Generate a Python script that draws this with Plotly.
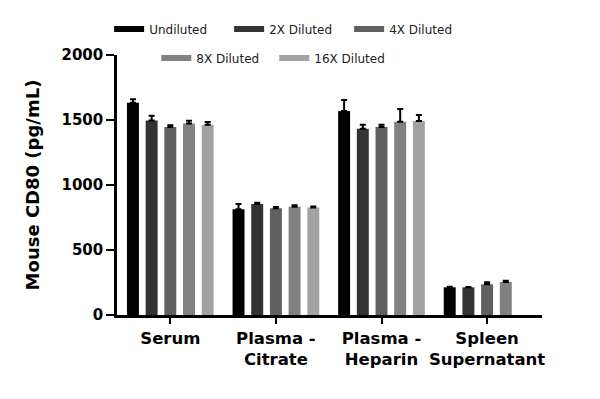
import plotly.graph_objects as go

categories = ["Serum", "Plasma -<br>Citrate", "Plasma -<br>Heparin", "Spleen<br>Supernatant"]
series_names = ["Undiluted", "2X Diluted", "4X Diluted", "8X Diluted", "16X Diluted"]
undiluted = [1633, 813, 1569, 213]
dil_2x = [1497, 854, 1433, 213]
dil_4x = [1446, 821, 1446, 236]
dil_8x = [1474, 833, 1487, 254]
dil_16x = [1464, 826, 1492, None]
err_undiluted = [26, 41, 85, 5]
err_2x = [36, 10, 31, 2]
err_4x = [13, 10, 18, 15]
err_8x = [20, 11, 98, 10]
err_16x = [20, 8, 46, 0]
colors = ["#000000", "#333333", "#606060", "#818181", "#a2a2a4"]

values = [undiluted, dil_2x, dil_4x, dil_8x, dil_16x]
errors = [err_undiluted, err_2x, err_4x, err_8x, err_16x]

fig = go.Figure()
for name, vals, errs, col in zip(series_names, values, errors, colors):
    fig.add_trace(go.Bar(
        x=categories, y=vals, name=name, showlegend=False,
        marker=dict(color=col, line=dict(width=0)),
        error_y=dict(type="data", array=errs, arrayminus=[0] * len(errs),
                     symmetric=False, color="#000000", thickness=2, width=3),
    ))

legend_ids = ["legend", "legend", "legend", "legend2", "legend2"]
for name, col, lg in zip(series_names, colors, legend_ids):
    fig.add_trace(go.Scatter(
        x=[None], y=[None], mode="lines", name=name,
        line=dict(color=col, width=6), legend=lg, showlegend=True,
    ))

legend_font = dict(family="DejaVu Sans", size=12, color="#222222")
fig.update_layout(
    width=600, height=399,
    margin=dict(l=109, r=66, t=47, b=92, autoexpand=False),
    paper_bgcolor="white", plot_bgcolor="white",
    barmode="group", bargap=0.115, bargroupgap=0.36,
    legend=dict(orientation="h", x=0.405, xanchor="center", y=1.1, yanchor="middle",
                font=legend_font, entrywidth=75, entrywidthmode="pixels",
                bgcolor="rgba(0,0,0,0)"),
    legend2=dict(orientation="h", x=0.37, xanchor="center", y=0.988, yanchor="middle",
                 font=legend_font, entrywidth=73, entrywidthmode="pixels",
                 bgcolor="rgba(0,0,0,0)"),
    xaxis=dict(
        range=[-0.505, 3.52], showline=True, linecolor="black", linewidth=2.5,
        ticks="outside", ticklen=6, tickwidth=2, tickcolor="black",
        tickfont=dict(family="DejaVu Sans", size=16.5, color="black", weight="bold"),
        showgrid=False, zeroline=False,
    ),
    yaxis=dict(
        range=[0, 2000], tickvals=[0, 500, 1000, 1500, 2000],
        showline=True, linecolor="black", linewidth=2.5,
        ticks="outside", ticklen=8, tickwidth=2, tickcolor="black",
        tickfont=dict(family="DejaVu Sans", size=15, color="black", weight="bold"),
        showgrid=False, zeroline=False,
        title=dict(text="Mouse CD80 (pg/mL)", standoff=18,
                   font=dict(family="DejaVu Sans", size=18, color="black", weight="bold")),
    ),
)

fig.write_html("out.html")
